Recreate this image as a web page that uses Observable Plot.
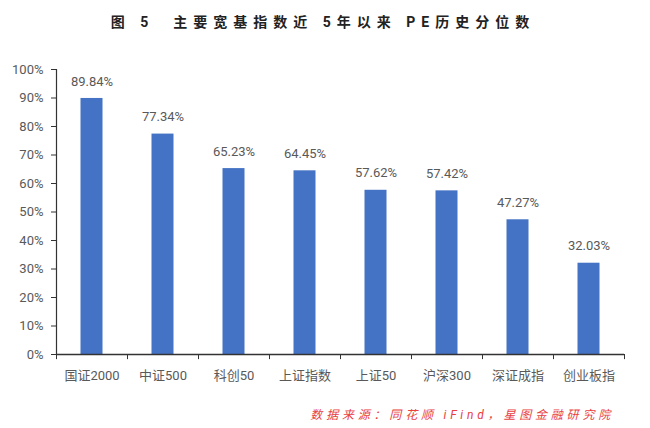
<!DOCTYPE html>
<html><head><meta charset="utf-8">
<script src="https://cdn.jsdelivr.net/npm/d3@7"></script>
<script src="https://cdn.jsdelivr.net/npm/@observablehq/plot@0.6"></script>
<style>
body{margin:0;background:#fff;font-family:Roboto,"Noto Sans CJK SC",sans-serif;}
#wrap{position:relative;width:650px;height:428px;}
#title{position:absolute;top:11px;left:0;width:646px;text-align:center;font-size:14px;font-weight:bold;letter-spacing:6px;color:#222;}
#caption{position:absolute;top:405px;right:36px;font-size:12px;font-style:italic;letter-spacing:3.8px;color:#e8413f;}
#chart{position:absolute;top:0;left:0;}
</style></head>
<body><div id="wrap">
<div id="title">图 5&nbsp;&nbsp;主要宽基指数近 5年以来 PE历史分位数</div>
<div id="chart"></div>
<div id="caption">数据来源：同花顺 iFind，星图金融研究院</div>
</div>
<script>
const categories = ["国证2000","中证500","科创50","上证指数","上证50","沪深300","深证成指","创业板指"];
const values = [0.8984,0.7734,0.6523,0.6445,0.5762,0.5742,0.4727,0.3203];
const yTicks = [0,0.1,0.2,0.3,0.4,0.5,0.6,0.7,0.8,0.9,1.0];

const data = categories.map((c,i)=>({cat:c, v:values[i]}));
const band = (650-56-26)/categories.length;
const half = band/2;

const chart = Plot.plot({
  width:650, height:428,
  marginTop:69, marginBottom:74, marginLeft:56, marginRight:26,
  style:{fontFamily:'Roboto,"Noto Sans CJK SC",sans-serif', fontSize:"13px", color:"#595959"},
  x:{domain:categories, padding:0, label:null},
  y:{domain:[0,1], label:null},
  marks:[
    Plot.barY(data,{x:"cat", y:"v", fill:"#4472C4", insetLeft:(band-22)/2, insetRight:(band-22)/2}),
    Plot.text(data,{x:"cat", y:"v", text:d=>(d.v*100).toFixed(2)+"%", dy:-17, fill:"#595959", fontSize:13}),
    Plot.axisY({ticks:yTicks, tickFormat:d=>Math.round(d*100)+"%", tickSize:5, stroke:"#333", tickPadding:8, fill:"#595959", fontSize:13, label:null}),
    Plot.axisX({tickSize:0, tickPadding:16, fill:"#595959", fontSize:13, label:null}),
    Plot.ruleY([0],{stroke:"#333", strokeWidth:1.5}),
    Plot.ruleX([categories[0]],{y1:0, y2:1, dx:-half, stroke:"#333", strokeWidth:1.2}),
    Plot.ruleX(categories,{y1:0, y2:-0.018, dx:-half, stroke:"#333"}),
    Plot.ruleX([categories[categories.length-1]],{y1:0, y2:-0.018, dx:half, stroke:"#333"})
  ]
});
document.getElementById("chart").appendChild(chart);
</script>
</body></html>
